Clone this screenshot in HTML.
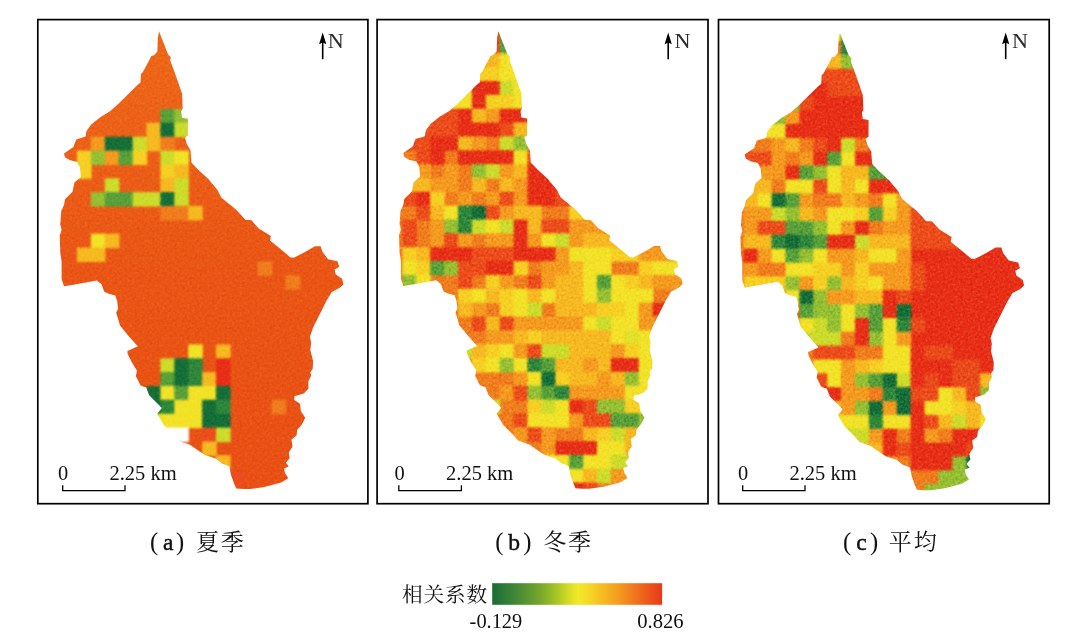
<!DOCTYPE html>
<html lang="zh"><head><meta charset="utf-8"><title>相关系数</title>
<style>html,body{margin:0;padding:0;background:#fff}body{width:1068px;height:635px;overflow:hidden}svg{display:block}.en{font-family:"Liberation Serif",serif;fill:#111}.zh{font-family:"Liberation Serif","Noto Serif CJK SC",serif;fill:#111}</style></head><body>
<svg width="1068" height="635" viewBox="0 0 1068 635">
<defs>
<clipPath id="shape"><polygon points="159.1,31.5 162.5,40.3 168.1,54.4 170.9,57.2 170,60 175.6,75 182.1,93.7 182.7,108.7 181.2,111.2 182.1,117.8 187.8,118.7 187.8,135.6 185,137.5 186.8,144 190.6,150.6 191.5,162.8 198.7,170.3 208.1,178.7 217.5,190 221.2,197.5 236.2,209.7 245.6,220 251.2,220 258.7,228.4 270.9,235.9 270,240.6 279.3,248.1 290.6,257.5 294.3,257.5 301.8,253.7 315,246.2 320.6,246.2 322.4,251.8 328.1,259.3 337.4,261.2 339.3,266.8 334.6,269.6 335.6,274.3 342.1,278.7 343.4,284.4 339.3,288.1 331.8,291.9 326.2,301.2 318.7,316.2 313.1,327.5 309.9,336.8 311.2,342.5 310.3,350 313.1,361.2 312.7,368.7 310.3,372.5 311.2,375.6 308.4,381.2 308.4,388.7 303.7,393.4 294.3,396.2 294.3,400 300,403.7 300.9,411.2 305.2,417.8 301.8,424.4 297.1,430 296.6,435.6 291.5,439.4 292.5,446.8 288.7,452.5 289.7,458.1 285.9,462.8 288.7,466.5 284,468.4 285,473.1 288.3,478.3 281.2,482.5 264.3,487.1 250,489.1 243.7,489 236.2,488.5 234.4,484.3 231.2,475.6 229.3,466.2 221.8,463.4 216.2,458.7 205,455 199.3,451.2 190,444.7 178.8,440.9 173.1,434.4 163.8,425 157.2,413.7 161.9,408.1 154.4,400.6 149,395 146.2,387.5 140.6,385.6 135.9,376.2 136.9,370.6 132.2,363.1 127.5,353.7 127.5,350.9 137.8,346.2 129.4,336.9 120,325.6 116.2,312.5 118.1,308.7 117.2,301.2 115.3,295.6 108.7,293.7 104.3,291.8 101.5,284.3 96.9,280.6 76.2,284.3 64,286.2 61.6,278.7 61.6,261.9 60.3,252.5 59.7,235.6 61.6,230 60.3,224.4 61.2,211.2 64,205 65,199.3 72.5,191.8 74.4,182.5 80.9,176.9 80,167.5 77.2,161.9 69.7,160 65,157.2 64,153.4 73.4,146.9 76.2,139.4 85.6,136.6 86.5,130.9 91.2,124.4 100.6,116.9 110,111.2 119.3,103.1 136.2,86.2 140.5,82.5 140.9,74 142.8,72.2 149.3,60 151.2,56.2 154,55.3 157.4,51.5 157.8,37.5"/></clipPath>
<filter id="soft0" x="-5%" y="-5%" width="110%" height="110%" color-interpolation-filters="sRGB"><feGaussianBlur stdDeviation="1.05" result="b"/><feTurbulence type="fractalNoise" baseFrequency="0.4 0.4" numOctaves="2" seed="7" result="t"/><feColorMatrix in="t" type="matrix" values="0.18 0.18 0.18 0 0.23 0.18 0.18 0.18 0 0.23 0.18 0.18 0.18 0 0.23 0 0 0 0 1" result="n"/><feBlend in="n" in2="b" mode="soft-light" result="m"/><feComposite in="m" in2="b" operator="in"/></filter>
<filter id="soft1" x="-5%" y="-5%" width="110%" height="110%" color-interpolation-filters="sRGB"><feGaussianBlur stdDeviation="1.05" result="b"/><feTurbulence type="fractalNoise" baseFrequency="0.4 0.4" numOctaves="2" seed="7" result="t"/><feColorMatrix in="t" type="matrix" values="0.38 0.38 0.38 0 -0.07 0.38 0.38 0.38 0 -0.07 0.38 0.38 0.38 0 -0.07 0 0 0 0 1" result="n"/><feBlend in="n" in2="b" mode="soft-light" result="m"/><feComposite in="m" in2="b" operator="in"/></filter>
<filter id="soft2" x="-5%" y="-5%" width="110%" height="110%" color-interpolation-filters="sRGB"><feGaussianBlur stdDeviation="1.05" result="b"/><feTurbulence type="fractalNoise" baseFrequency="0.4 0.4" numOctaves="2" seed="7" result="t"/><feColorMatrix in="t" type="matrix" values="0.38 0.38 0.38 0 -0.07 0.38 0.38 0.38 0 -0.07 0.38 0.38 0.38 0 -0.07 0 0 0 0 1" result="n"/><feBlend in="n" in2="b" mode="soft-light" result="m"/><feComposite in="m" in2="b" operator="in"/></filter>
<linearGradient id="lg" x1="0" y1="0" x2="1" y2="0"><stop offset="0" stop-color="#1a6b38"/><stop offset="0.13" stop-color="#3f8636"/><stop offset="0.28" stop-color="#76a62c"/><stop offset="0.38" stop-color="#a8c624"/><stop offset="0.45" stop-color="#d6dc24"/><stop offset="0.505" stop-color="#f1e92a"/><stop offset="0.55" stop-color="#f4de28"/><stop offset="0.63" stop-color="#f5c222"/><stop offset="0.75" stop-color="#f39a1e"/><stop offset="0.88" stop-color="#ee661c"/><stop offset="1" stop-color="#e8381a"/></linearGradient>
<linearGradient id="b1" gradientUnits="userSpaceOnUse" x1="0" y1="30" x2="0" y2="490"><stop offset="0" stop-color="#ee6818"/><stop offset="0.25" stop-color="#ec6017"/><stop offset="0.5" stop-color="#ea5615"/><stop offset="1" stop-color="#e95014"/></linearGradient>
</defs>
<rect width="1068" height="635" fill="#fff"/>
<g transform="translate(0,0)">
<g clip-path="url(#shape)"><g filter="url(#soft0)">
<rect x="50" y="20" width="305" height="480" fill="url(#b1)"/>
<rect x="160.4" y="109" width="14.6" height="14.5" fill="#58a038"/>
<rect x="174.3" y="109" width="14.6" height="14.5" fill="#96c032"/>
<rect x="146.5" y="122.8" width="14.6" height="14.5" fill="#f6b920"/>
<rect x="160.4" y="122.8" width="14.6" height="14.5" fill="#146e37"/>
<rect x="174.3" y="122.8" width="14.6" height="14.5" fill="#cddc2a"/>
<rect x="90.9" y="136.7" width="14.6" height="14.5" fill="#f49b1e"/>
<rect x="104.8" y="136.7" width="28.5" height="14.5" fill="#146e37"/>
<rect x="132.6" y="136.7" width="14.6" height="14.5" fill="#cddc2a"/>
<rect x="146.5" y="136.7" width="14.6" height="14.5" fill="#f6b920"/>
<rect x="160.4" y="136.7" width="14.6" height="14.5" fill="#f07d1c"/>
<rect x="77" y="150.6" width="14.6" height="14.5" fill="#f6d022"/>
<rect x="90.9" y="150.6" width="14.6" height="14.5" fill="#96c032"/>
<rect x="104.8" y="150.6" width="14.6" height="14.5" fill="#f49b1e"/>
<rect x="118.7" y="150.6" width="14.6" height="14.5" fill="#58a038"/>
<rect x="132.6" y="150.6" width="14.6" height="14.5" fill="#f6d022"/>
<rect x="160.4" y="150.6" width="14.6" height="14.5" fill="#cddc2a"/>
<rect x="174.3" y="150.6" width="14.6" height="14.5" fill="#f2e226"/>
<rect x="77" y="164.4" width="14.6" height="14.5" fill="#f6d022"/>
<rect x="160.4" y="164.4" width="14.6" height="14.5" fill="#f6d022"/>
<rect x="174.3" y="164.4" width="14.6" height="14.5" fill="#f6b920"/>
<rect x="104.8" y="178.2" width="14.6" height="14.5" fill="#cddc2a"/>
<rect x="160.4" y="178.2" width="14.6" height="14.5" fill="#f6b920"/>
<rect x="174.3" y="178.2" width="14.6" height="14.5" fill="#cddc2a"/>
<rect x="90.9" y="192.1" width="14.6" height="14.5" fill="#96c032"/>
<rect x="104.8" y="192.1" width="28.5" height="14.5" fill="#58a038"/>
<rect x="132.6" y="192.1" width="28.5" height="14.5" fill="#cddc2a"/>
<rect x="160.4" y="192.1" width="14.6" height="14.5" fill="#146e37"/>
<rect x="174.3" y="192.1" width="14.6" height="14.5" fill="#cddc2a"/>
<rect x="160.4" y="205.9" width="28.5" height="14.5" fill="#f07d1c"/>
<rect x="188.2" y="205.9" width="14.6" height="14.5" fill="#f6b920"/>
<rect x="90.9" y="233.6" width="14.6" height="14.5" fill="#f2e226"/>
<rect x="104.8" y="233.6" width="14.6" height="14.5" fill="#f6b920"/>
<rect x="77" y="247.5" width="28.5" height="14.5" fill="#f6b920"/>
<rect x="257.7" y="261.4" width="14.6" height="14.5" fill="#f07d1c"/>
<rect x="285.5" y="275.2" width="14.6" height="14.5" fill="#f07d1c"/>
<rect x="188.2" y="344.4" width="14.6" height="14.5" fill="#f2e226"/>
<rect x="216" y="344.4" width="14.6" height="14.5" fill="#f6b920"/>
<rect x="160.4" y="358.3" width="14.6" height="14.5" fill="#cddc2a"/>
<rect x="174.3" y="358.3" width="14.6" height="14.5" fill="#146e37"/>
<rect x="188.2" y="358.3" width="14.6" height="14.5" fill="#2d873a"/>
<rect x="216" y="358.3" width="14.6" height="14.5" fill="#e72e16"/>
<rect x="160.4" y="372.1" width="14.6" height="14.5" fill="#58a038"/>
<rect x="174.3" y="372.1" width="14.6" height="14.5" fill="#146e37"/>
<rect x="188.2" y="372.1" width="14.6" height="14.5" fill="#2d873a"/>
<rect x="202.1" y="372.1" width="14.6" height="14.5" fill="#f6b920"/>
<rect x="216" y="372.1" width="14.6" height="14.5" fill="#e72e16"/>
<rect x="146.5" y="386" width="14.6" height="14.5" fill="#146e37"/>
<rect x="160.4" y="386" width="14.6" height="14.5" fill="#f2e226"/>
<rect x="174.3" y="386" width="14.6" height="14.5" fill="#58a038"/>
<rect x="188.2" y="386" width="28.5" height="14.5" fill="#f2e226"/>
<rect x="216" y="386" width="14.6" height="14.5" fill="#146e37"/>
<rect x="146.5" y="399.8" width="14.6" height="14.5" fill="#146e37"/>
<rect x="160.4" y="399.8" width="14.6" height="14.5" fill="#2d873a"/>
<rect x="174.3" y="399.8" width="28.5" height="14.5" fill="#f2e226"/>
<rect x="202.1" y="399.8" width="14.6" height="14.5" fill="#146e37"/>
<rect x="216" y="399.8" width="14.6" height="14.5" fill="#2d873a"/>
<rect x="271.6" y="399.8" width="14.6" height="14.5" fill="#f07d1c"/>
<rect x="146.5" y="413.7" width="56.3" height="14.5" fill="#f2e226"/>
<rect x="202.1" y="413.7" width="28.5" height="14.5" fill="#146e37"/>
<rect x="160.4" y="427.6" width="28.5" height="14.5" fill="#ffffff"/>
<rect x="202.1" y="427.6" width="14.6" height="14.5" fill="#ec4c1a"/>
<rect x="216" y="427.6" width="14.6" height="14.5" fill="#cddc2a"/>
<rect x="202.1" y="441.4" width="14.6" height="14.5" fill="#f6b920"/>
<rect x="216" y="455.2" width="14.6" height="14.5" fill="#f6b920"/>
<rect x="229.9" y="469.1" width="14.6" height="14.5" fill="#ec4c1a"/>
</g></g></g>
<rect x="37.8" y="19.6" width="330.1" height="484.1" fill="none" stroke="#000" stroke-width="1.7"/>
<path d="M322.7 59.2V40" stroke="#000" stroke-width="1.6" fill="none"/>
<path d="M322.7 32.6L326.3 44.2L322.7 42.4L319.1 44.2Z" fill="#000"/>
<text class="en" x="327.8" y="47.8" font-size="21" textLength="16" lengthAdjust="spacingAndGlyphs" style="fill:#2b2b2b">N</text>
<path d="M62.7 485.3V490.6H125V485.3" stroke="#000" stroke-width="1.3" fill="none"/>
<text class="en" x="57.9" y="479.6" font-size="20.4">0</text>
<text class="en" x="109.4" y="479.6" font-size="20.5">2.25 km</text>
<g transform="translate(339.3,-0.3)">
<g clip-path="url(#shape)"><g filter="url(#soft1)">
<rect x="50" y="20" width="305" height="480" fill="#f07d1c"/>
<rect x="146.5" y="25.9" width="14.6" height="14.5" fill="#ec4c1a"/>
<rect x="160.4" y="25.9" width="14.6" height="14.5" fill="#58a038"/>
<rect x="146.5" y="39.8" width="14.6" height="14.5" fill="#ec4c1a"/>
<rect x="160.4" y="39.8" width="14.6" height="14.5" fill="#58a038"/>
<rect x="146.5" y="53.6" width="14.6" height="14.5" fill="#f6b920"/>
<rect x="160.4" y="53.6" width="14.6" height="14.5" fill="#f2e226"/>
<rect x="132.6" y="67.5" width="28.5" height="14.5" fill="#f6d022"/>
<rect x="160.4" y="67.5" width="28.5" height="14.5" fill="#f2e226"/>
<rect x="118.7" y="81.3" width="14.6" height="14.5" fill="#f2e226"/>
<rect x="132.6" y="81.3" width="28.5" height="14.5" fill="#e72e16"/>
<rect x="160.4" y="81.3" width="14.6" height="14.5" fill="#cddc2a"/>
<rect x="174.3" y="81.3" width="14.6" height="14.5" fill="#f2e226"/>
<rect x="104.8" y="95.2" width="28.5" height="14.5" fill="#f2e226"/>
<rect x="132.6" y="95.2" width="14.6" height="14.5" fill="#e72e16"/>
<rect x="146.5" y="95.2" width="28.5" height="14.5" fill="#f6d022"/>
<rect x="174.3" y="95.2" width="14.6" height="14.5" fill="#f2e226"/>
<rect x="77" y="109" width="42.4" height="14.5" fill="#ec4c1a"/>
<rect x="118.7" y="109" width="14.6" height="14.5" fill="#e72e16"/>
<rect x="132.6" y="109" width="14.6" height="14.5" fill="#f6b920"/>
<rect x="146.5" y="109" width="14.6" height="14.5" fill="#f49b1e"/>
<rect x="160.4" y="109" width="42.4" height="14.5" fill="#e72e16"/>
<rect x="63.1" y="122.8" width="56.3" height="14.5" fill="#ec4c1a"/>
<rect x="118.7" y="122.8" width="42.4" height="14.5" fill="#e72e16"/>
<rect x="160.4" y="122.8" width="14.6" height="14.5" fill="#ec4c1a"/>
<rect x="174.3" y="122.8" width="28.5" height="14.5" fill="#f6b920"/>
<rect x="63.1" y="136.7" width="28.5" height="14.5" fill="#ec4c1a"/>
<rect x="90.9" y="136.7" width="28.5" height="14.5" fill="#e72e16"/>
<rect x="118.7" y="136.7" width="14.6" height="14.5" fill="#f6b920"/>
<rect x="132.6" y="136.7" width="14.6" height="14.5" fill="#f49b1e"/>
<rect x="160.4" y="136.7" width="14.6" height="14.5" fill="#cddc2a"/>
<rect x="174.3" y="136.7" width="28.5" height="14.5" fill="#96c032"/>
<rect x="77" y="150.6" width="14.6" height="14.5" fill="#ec4c1a"/>
<rect x="90.9" y="150.6" width="14.6" height="14.5" fill="#e72e16"/>
<rect x="118.7" y="150.6" width="56.3" height="14.5" fill="#e72e16"/>
<rect x="174.3" y="150.6" width="14.6" height="14.5" fill="#f2e226"/>
<rect x="188.2" y="150.6" width="14.6" height="14.5" fill="#ec4c1a"/>
<rect x="63.1" y="164.4" width="28.5" height="14.5" fill="#f49b1e"/>
<rect x="104.8" y="164.4" width="14.6" height="14.5" fill="#f49b1e"/>
<rect x="132.6" y="164.4" width="14.6" height="14.5" fill="#96c032"/>
<rect x="146.5" y="164.4" width="14.6" height="14.5" fill="#cddc2a"/>
<rect x="160.4" y="164.4" width="14.6" height="14.5" fill="#f49b1e"/>
<rect x="174.3" y="164.4" width="14.6" height="14.5" fill="#f6b920"/>
<rect x="188.2" y="164.4" width="28.5" height="14.5" fill="#e72e16"/>
<rect x="63.1" y="178.2" width="28.5" height="14.5" fill="#f6b920"/>
<rect x="90.9" y="178.2" width="28.5" height="14.5" fill="#f49b1e"/>
<rect x="132.6" y="178.2" width="14.6" height="14.5" fill="#f6b920"/>
<rect x="160.4" y="178.2" width="14.6" height="14.5" fill="#f6b920"/>
<rect x="174.3" y="178.2" width="14.6" height="14.5" fill="#f49b1e"/>
<rect x="188.2" y="178.2" width="42.4" height="14.5" fill="#e72e16"/>
<rect x="63.1" y="192.1" width="14.6" height="14.5" fill="#ec4c1a"/>
<rect x="77" y="192.1" width="14.6" height="14.5" fill="#e72e16"/>
<rect x="90.9" y="192.1" width="14.6" height="14.5" fill="#f6d022"/>
<rect x="118.7" y="192.1" width="14.6" height="14.5" fill="#f49b1e"/>
<rect x="146.5" y="192.1" width="14.6" height="14.5" fill="#f49b1e"/>
<rect x="160.4" y="192.1" width="14.6" height="14.5" fill="#ec4c1a"/>
<rect x="174.3" y="192.1" width="14.6" height="14.5" fill="#f49b1e"/>
<rect x="188.2" y="192.1" width="28.5" height="14.5" fill="#e72e16"/>
<rect x="216" y="192.1" width="28.5" height="14.5" fill="#ec4c1a"/>
<rect x="77" y="205.9" width="14.6" height="14.5" fill="#ec4c1a"/>
<rect x="90.9" y="205.9" width="14.6" height="14.5" fill="#f6b920"/>
<rect x="104.8" y="205.9" width="14.6" height="14.5" fill="#f2e226"/>
<rect x="118.7" y="205.9" width="14.6" height="14.5" fill="#2d873a"/>
<rect x="132.6" y="205.9" width="14.6" height="14.5" fill="#146e37"/>
<rect x="146.5" y="205.9" width="14.6" height="14.5" fill="#ec4c1a"/>
<rect x="160.4" y="205.9" width="14.6" height="14.5" fill="#f49b1e"/>
<rect x="174.3" y="205.9" width="28.5" height="14.5" fill="#f6b920"/>
<rect x="229.9" y="205.9" width="28.5" height="14.5" fill="#f6d022"/>
<rect x="63.1" y="219.8" width="14.6" height="14.5" fill="#ec4c1a"/>
<rect x="90.9" y="219.8" width="14.6" height="14.5" fill="#f49b1e"/>
<rect x="104.8" y="219.8" width="14.6" height="14.5" fill="#96c032"/>
<rect x="118.7" y="219.8" width="14.6" height="14.5" fill="#2d873a"/>
<rect x="132.6" y="219.8" width="14.6" height="14.5" fill="#cddc2a"/>
<rect x="146.5" y="219.8" width="14.6" height="14.5" fill="#f2e226"/>
<rect x="160.4" y="219.8" width="14.6" height="14.5" fill="#cddc2a"/>
<rect x="174.3" y="219.8" width="14.6" height="14.5" fill="#e72e16"/>
<rect x="188.2" y="219.8" width="14.6" height="14.5" fill="#f6b920"/>
<rect x="202.1" y="219.8" width="28.5" height="14.5" fill="#ec4c1a"/>
<rect x="229.9" y="219.8" width="42.4" height="14.5" fill="#f49b1e"/>
<rect x="63.1" y="233.6" width="14.6" height="14.5" fill="#ec4c1a"/>
<rect x="90.9" y="233.6" width="14.6" height="14.5" fill="#f49b1e"/>
<rect x="104.8" y="233.6" width="14.6" height="14.5" fill="#ec4c1a"/>
<rect x="118.7" y="233.6" width="14.6" height="14.5" fill="#f49b1e"/>
<rect x="146.5" y="233.6" width="28.5" height="14.5" fill="#f49b1e"/>
<rect x="174.3" y="233.6" width="14.6" height="14.5" fill="#e72e16"/>
<rect x="188.2" y="233.6" width="14.6" height="14.5" fill="#f49b1e"/>
<rect x="202.1" y="233.6" width="14.6" height="14.5" fill="#f2e226"/>
<rect x="216" y="233.6" width="14.6" height="14.5" fill="#cddc2a"/>
<rect x="229.9" y="233.6" width="14.6" height="14.5" fill="#f49b1e"/>
<rect x="243.8" y="233.6" width="42.4" height="14.5" fill="#f6b920"/>
<rect x="63.1" y="247.5" width="14.6" height="14.5" fill="#f6d022"/>
<rect x="77" y="247.5" width="14.6" height="14.5" fill="#f6b920"/>
<rect x="90.9" y="247.5" width="42.4" height="14.5" fill="#e72e16"/>
<rect x="132.6" y="247.5" width="42.4" height="14.5" fill="#ec4c1a"/>
<rect x="174.3" y="247.5" width="42.4" height="14.5" fill="#e72e16"/>
<rect x="216" y="247.5" width="14.6" height="14.5" fill="#f49b1e"/>
<rect x="229.9" y="247.5" width="42.4" height="14.5" fill="#f2e226"/>
<rect x="271.6" y="247.5" width="28.5" height="14.5" fill="#f6d022"/>
<rect x="299.4" y="247.5" width="42.4" height="14.5" fill="#f49b1e"/>
<rect x="63.1" y="261.4" width="14.6" height="14.5" fill="#f2e226"/>
<rect x="77" y="261.4" width="14.6" height="14.5" fill="#f6d022"/>
<rect x="90.9" y="261.4" width="14.6" height="14.5" fill="#58a038"/>
<rect x="104.8" y="261.4" width="14.6" height="14.5" fill="#96c032"/>
<rect x="118.7" y="261.4" width="28.5" height="14.5" fill="#ec4c1a"/>
<rect x="146.5" y="261.4" width="28.5" height="14.5" fill="#e72e16"/>
<rect x="174.3" y="261.4" width="14.6" height="14.5" fill="#f6d022"/>
<rect x="202.1" y="261.4" width="28.5" height="14.5" fill="#f49b1e"/>
<rect x="229.9" y="261.4" width="14.6" height="14.5" fill="#f6b920"/>
<rect x="243.8" y="261.4" width="28.5" height="14.5" fill="#f2e226"/>
<rect x="299.4" y="261.4" width="14.6" height="14.5" fill="#f6d022"/>
<rect x="313.3" y="261.4" width="42.4" height="14.5" fill="#f2e226"/>
<rect x="63.1" y="275.2" width="14.6" height="14.5" fill="#96c032"/>
<rect x="77" y="275.2" width="14.6" height="14.5" fill="#f2e226"/>
<rect x="118.7" y="275.2" width="14.6" height="14.5" fill="#ec4c1a"/>
<rect x="146.5" y="275.2" width="14.6" height="14.5" fill="#f6d022"/>
<rect x="160.4" y="275.2" width="14.6" height="14.5" fill="#f49b1e"/>
<rect x="188.2" y="275.2" width="14.6" height="14.5" fill="#ec4c1a"/>
<rect x="202.1" y="275.2" width="14.6" height="14.5" fill="#f49b1e"/>
<rect x="216" y="275.2" width="28.5" height="14.5" fill="#f6b920"/>
<rect x="243.8" y="275.2" width="14.6" height="14.5" fill="#f2e226"/>
<rect x="257.7" y="275.2" width="14.6" height="14.5" fill="#58a038"/>
<rect x="271.6" y="275.2" width="14.6" height="14.5" fill="#f2e226"/>
<rect x="285.5" y="275.2" width="14.6" height="14.5" fill="#f6d022"/>
<rect x="299.4" y="275.2" width="14.6" height="14.5" fill="#f6b920"/>
<rect x="313.3" y="275.2" width="42.4" height="14.5" fill="#f49b1e"/>
<rect x="118.7" y="289" width="14.6" height="14.5" fill="#f6d022"/>
<rect x="132.6" y="289" width="14.6" height="14.5" fill="#f2e226"/>
<rect x="146.5" y="289" width="14.6" height="14.5" fill="#f6b920"/>
<rect x="160.4" y="289" width="14.6" height="14.5" fill="#f6d022"/>
<rect x="174.3" y="289" width="14.6" height="14.5" fill="#f2e226"/>
<rect x="188.2" y="289" width="14.6" height="14.5" fill="#f6b920"/>
<rect x="202.1" y="289" width="14.6" height="14.5" fill="#f2e226"/>
<rect x="216" y="289" width="28.5" height="14.5" fill="#f6b920"/>
<rect x="243.8" y="289" width="14.6" height="14.5" fill="#f2e226"/>
<rect x="257.7" y="289" width="14.6" height="14.5" fill="#96c032"/>
<rect x="271.6" y="289" width="42.4" height="14.5" fill="#f2e226"/>
<rect x="118.7" y="302.9" width="14.6" height="14.5" fill="#f6b920"/>
<rect x="132.6" y="302.9" width="14.6" height="14.5" fill="#f49b1e"/>
<rect x="160.4" y="302.9" width="14.6" height="14.5" fill="#f6d022"/>
<rect x="174.3" y="302.9" width="14.6" height="14.5" fill="#f2e226"/>
<rect x="188.2" y="302.9" width="14.6" height="14.5" fill="#cddc2a"/>
<rect x="216" y="302.9" width="42.4" height="14.5" fill="#f6b920"/>
<rect x="257.7" y="302.9" width="28.5" height="14.5" fill="#f6d022"/>
<rect x="285.5" y="302.9" width="14.6" height="14.5" fill="#f2e226"/>
<rect x="299.4" y="302.9" width="14.6" height="14.5" fill="#f49b1e"/>
<rect x="313.3" y="302.9" width="14.6" height="14.5" fill="#e72e16"/>
<rect x="132.6" y="316.8" width="14.6" height="14.5" fill="#ec4c1a"/>
<rect x="146.5" y="316.8" width="14.6" height="14.5" fill="#f6b920"/>
<rect x="160.4" y="316.8" width="14.6" height="14.5" fill="#ec4c1a"/>
<rect x="174.3" y="316.8" width="70.2" height="14.5" fill="#f49b1e"/>
<rect x="243.8" y="316.8" width="14.6" height="14.5" fill="#f2e226"/>
<rect x="257.7" y="316.8" width="14.6" height="14.5" fill="#cddc2a"/>
<rect x="271.6" y="316.8" width="28.5" height="14.5" fill="#f2e226"/>
<rect x="299.4" y="316.8" width="28.5" height="14.5" fill="#f49b1e"/>
<rect x="146.5" y="330.6" width="28.5" height="14.5" fill="#f49b1e"/>
<rect x="174.3" y="330.6" width="14.6" height="14.5" fill="#f6b920"/>
<rect x="188.2" y="330.6" width="14.6" height="14.5" fill="#f6d022"/>
<rect x="202.1" y="330.6" width="70.2" height="14.5" fill="#f6b920"/>
<rect x="271.6" y="330.6" width="14.6" height="14.5" fill="#f2e226"/>
<rect x="285.5" y="330.6" width="14.6" height="14.5" fill="#e2e028"/>
<rect x="299.4" y="330.6" width="14.6" height="14.5" fill="#f2e226"/>
<rect x="118.7" y="344.4" width="14.6" height="14.5" fill="#cddc2a"/>
<rect x="132.6" y="344.4" width="14.6" height="14.5" fill="#f6b920"/>
<rect x="146.5" y="344.4" width="14.6" height="14.5" fill="#f6d022"/>
<rect x="160.4" y="344.4" width="14.6" height="14.5" fill="#f2e226"/>
<rect x="174.3" y="344.4" width="14.6" height="14.5" fill="#f49b1e"/>
<rect x="188.2" y="344.4" width="14.6" height="14.5" fill="#ec4c1a"/>
<rect x="202.1" y="344.4" width="28.5" height="14.5" fill="#cddc2a"/>
<rect x="229.9" y="344.4" width="42.4" height="14.5" fill="#f6b920"/>
<rect x="271.6" y="344.4" width="14.6" height="14.5" fill="#f49b1e"/>
<rect x="285.5" y="344.4" width="14.6" height="14.5" fill="#f6d022"/>
<rect x="299.4" y="344.4" width="14.6" height="14.5" fill="#f2e226"/>
<rect x="132.6" y="358.3" width="14.6" height="14.5" fill="#f6d022"/>
<rect x="146.5" y="358.3" width="14.6" height="14.5" fill="#f2e226"/>
<rect x="160.4" y="358.3" width="14.6" height="14.5" fill="#96c032"/>
<rect x="174.3" y="358.3" width="14.6" height="14.5" fill="#f2e226"/>
<rect x="188.2" y="358.3" width="14.6" height="14.5" fill="#2d873a"/>
<rect x="202.1" y="358.3" width="14.6" height="14.5" fill="#58a038"/>
<rect x="216" y="358.3" width="28.5" height="14.5" fill="#f6b920"/>
<rect x="243.8" y="358.3" width="14.6" height="14.5" fill="#f49b1e"/>
<rect x="257.7" y="358.3" width="14.6" height="14.5" fill="#f6b920"/>
<rect x="271.6" y="358.3" width="28.5" height="14.5" fill="#e72e16"/>
<rect x="299.4" y="358.3" width="14.6" height="14.5" fill="#f2e226"/>
<rect x="174.3" y="372.1" width="14.6" height="14.5" fill="#f49b1e"/>
<rect x="188.2" y="372.1" width="14.6" height="14.5" fill="#f2e226"/>
<rect x="202.1" y="372.1" width="14.6" height="14.5" fill="#146e37"/>
<rect x="216" y="372.1" width="14.6" height="14.5" fill="#f6d022"/>
<rect x="229.9" y="372.1" width="28.5" height="14.5" fill="#f6b920"/>
<rect x="257.7" y="372.1" width="14.6" height="14.5" fill="#f49b1e"/>
<rect x="271.6" y="372.1" width="14.6" height="14.5" fill="#f6b920"/>
<rect x="285.5" y="372.1" width="14.6" height="14.5" fill="#96c032"/>
<rect x="299.4" y="372.1" width="14.6" height="14.5" fill="#f2e226"/>
<rect x="160.4" y="386" width="14.6" height="14.5" fill="#f49b1e"/>
<rect x="174.3" y="386" width="14.6" height="14.5" fill="#ec4c1a"/>
<rect x="188.2" y="386" width="14.6" height="14.5" fill="#96c032"/>
<rect x="202.1" y="386" width="14.6" height="14.5" fill="#58a038"/>
<rect x="216" y="386" width="14.6" height="14.5" fill="#2d873a"/>
<rect x="229.9" y="386" width="56.3" height="14.5" fill="#f49b1e"/>
<rect x="285.5" y="386" width="28.5" height="14.5" fill="#f2e226"/>
<rect x="146.5" y="399.8" width="14.6" height="14.5" fill="#cddc2a"/>
<rect x="188.2" y="399.8" width="14.6" height="14.5" fill="#f6d022"/>
<rect x="202.1" y="399.8" width="14.6" height="14.5" fill="#cddc2a"/>
<rect x="216" y="399.8" width="14.6" height="14.5" fill="#f2e226"/>
<rect x="229.9" y="399.8" width="14.6" height="14.5" fill="#e72e16"/>
<rect x="243.8" y="399.8" width="14.6" height="14.5" fill="#ec4c1a"/>
<rect x="257.7" y="399.8" width="28.5" height="14.5" fill="#96c032"/>
<rect x="285.5" y="399.8" width="28.5" height="14.5" fill="#f6d022"/>
<rect x="174.3" y="413.7" width="14.6" height="14.5" fill="#ec4c1a"/>
<rect x="188.2" y="413.7" width="42.4" height="14.5" fill="#f2e226"/>
<rect x="229.9" y="413.7" width="14.6" height="14.5" fill="#f49b1e"/>
<rect x="243.8" y="413.7" width="28.5" height="14.5" fill="#ec4c1a"/>
<rect x="271.6" y="413.7" width="28.5" height="14.5" fill="#58a038"/>
<rect x="299.4" y="413.7" width="14.6" height="14.5" fill="#96c032"/>
<rect x="174.3" y="427.6" width="14.6" height="14.5" fill="#f49b1e"/>
<rect x="188.2" y="427.6" width="14.6" height="14.5" fill="#ec4c1a"/>
<rect x="202.1" y="427.6" width="14.6" height="14.5" fill="#f49b1e"/>
<rect x="243.8" y="427.6" width="14.6" height="14.5" fill="#f6b920"/>
<rect x="257.7" y="427.6" width="14.6" height="14.5" fill="#f6d022"/>
<rect x="271.6" y="427.6" width="14.6" height="14.5" fill="#cddc2a"/>
<rect x="285.5" y="427.6" width="28.5" height="14.5" fill="#f6b920"/>
<rect x="202.1" y="441.4" width="14.6" height="14.5" fill="#f49b1e"/>
<rect x="216" y="441.4" width="42.4" height="14.5" fill="#e72e16"/>
<rect x="257.7" y="441.4" width="28.5" height="14.5" fill="#f2e226"/>
<rect x="285.5" y="441.4" width="28.5" height="14.5" fill="#f6b920"/>
<rect x="188.2" y="455.2" width="42.4" height="14.5" fill="#f2e226"/>
<rect x="229.9" y="455.2" width="14.6" height="14.5" fill="#58a038"/>
<rect x="243.8" y="455.2" width="28.5" height="14.5" fill="#f2e226"/>
<rect x="271.6" y="455.2" width="28.5" height="14.5" fill="#cddc2a"/>
<rect x="216" y="469.1" width="28.5" height="14.5" fill="#f2e226"/>
<rect x="243.8" y="469.1" width="14.6" height="14.5" fill="#f6b920"/>
<rect x="257.7" y="469.1" width="14.6" height="14.5" fill="#cddc2a"/>
<rect x="271.6" y="469.1" width="28.5" height="14.5" fill="#f49b1e"/>
<rect x="216" y="482.9" width="28.5" height="14.5" fill="#e72e16"/>
<rect x="243.8" y="482.9" width="14.6" height="14.5" fill="#ec4c1a"/>
</g></g></g>
<rect x="377.1" y="19.6" width="330.9" height="484.1" fill="none" stroke="#000" stroke-width="1.7"/>
<path d="M668.2 59.2V40" stroke="#000" stroke-width="1.6" fill="none"/>
<path d="M668.2 32.6L671.8 44.2L668.2 42.4L664.6 44.2Z" fill="#000"/>
<text class="en" x="674.5" y="47.8" font-size="21" textLength="16" lengthAdjust="spacingAndGlyphs" style="fill:#2b2b2b">N</text>
<path d="M398.8 485.3V490.6H461.4V485.3" stroke="#000" stroke-width="1.3" fill="none"/>
<text class="en" x="394.5" y="479.6" font-size="20.4">0</text>
<text class="en" x="446" y="479.6" font-size="20.5">2.25 km</text>
<g transform="translate(680.7,1.2)">
<g clip-path="url(#shape)"><g filter="url(#soft2)">
<rect x="50" y="20" width="305" height="480" fill="#f07d1c"/>
<rect x="229.9" y="20" width="130.1" height="480" fill="#e72e16"/>
<rect x="146.5" y="25.9" width="14.6" height="14.5" fill="#f2e226"/>
<rect x="160.4" y="25.9" width="14.6" height="14.5" fill="#2d873a"/>
<rect x="146.5" y="39.8" width="14.6" height="14.5" fill="#f07d1c"/>
<rect x="160.4" y="39.8" width="14.6" height="14.5" fill="#2d873a"/>
<rect x="146.5" y="53.6" width="14.6" height="14.5" fill="#f6b920"/>
<rect x="160.4" y="53.6" width="14.6" height="14.5" fill="#96c032"/>
<rect x="132.6" y="67.5" width="56.3" height="14.5" fill="#ec4c1a"/>
<rect x="118.7" y="81.3" width="28.5" height="14.5" fill="#e72e16"/>
<rect x="146.5" y="81.3" width="14.6" height="14.5" fill="#ea4a1a"/>
<rect x="160.4" y="81.3" width="28.5" height="14.5" fill="#ec4c1a"/>
<rect x="104.8" y="95.2" width="14.6" height="14.5" fill="#96c032"/>
<rect x="118.7" y="95.2" width="14.6" height="14.5" fill="#ec4c1a"/>
<rect x="132.6" y="95.2" width="56.3" height="14.5" fill="#e72e16"/>
<rect x="77" y="109" width="28.5" height="14.5" fill="#96c032"/>
<rect x="104.8" y="109" width="14.6" height="14.5" fill="#f49b1e"/>
<rect x="118.7" y="109" width="84.1" height="14.5" fill="#e72e16"/>
<rect x="77" y="122.8" width="28.5" height="14.5" fill="#f2e226"/>
<rect x="104.8" y="122.8" width="98" height="14.5" fill="#e72e16"/>
<rect x="63.1" y="136.7" width="28.5" height="14.5" fill="#f07d1c"/>
<rect x="90.9" y="136.7" width="14.6" height="14.5" fill="#f49b1e"/>
<rect x="104.8" y="136.7" width="14.6" height="14.5" fill="#f6b920"/>
<rect x="118.7" y="136.7" width="14.6" height="14.5" fill="#f07d1c"/>
<rect x="132.6" y="136.7" width="14.6" height="14.5" fill="#ec4c1a"/>
<rect x="146.5" y="136.7" width="14.6" height="14.5" fill="#e72e16"/>
<rect x="160.4" y="136.7" width="14.6" height="14.5" fill="#cddc2a"/>
<rect x="174.3" y="136.7" width="14.6" height="14.5" fill="#f07d1c"/>
<rect x="188.2" y="136.7" width="14.6" height="14.5" fill="#ec4c1a"/>
<rect x="63.1" y="150.6" width="28.5" height="14.5" fill="#ec4c1a"/>
<rect x="90.9" y="150.6" width="14.6" height="14.5" fill="#f49b1e"/>
<rect x="104.8" y="150.6" width="14.6" height="14.5" fill="#f07d1c"/>
<rect x="118.7" y="150.6" width="14.6" height="14.5" fill="#f49b1e"/>
<rect x="132.6" y="150.6" width="14.6" height="14.5" fill="#e72e16"/>
<rect x="146.5" y="150.6" width="14.6" height="14.5" fill="#58a038"/>
<rect x="160.4" y="150.6" width="14.6" height="14.5" fill="#f2e226"/>
<rect x="174.3" y="150.6" width="28.5" height="14.5" fill="#e72e16"/>
<rect x="63.1" y="164.4" width="42.4" height="14.5" fill="#f49b1e"/>
<rect x="104.8" y="164.4" width="14.6" height="14.5" fill="#e72e16"/>
<rect x="118.7" y="164.4" width="14.6" height="14.5" fill="#58a038"/>
<rect x="132.6" y="164.4" width="14.6" height="14.5" fill="#96c032"/>
<rect x="146.5" y="164.4" width="14.6" height="14.5" fill="#f2e226"/>
<rect x="160.4" y="164.4" width="28.5" height="14.5" fill="#f6b920"/>
<rect x="188.2" y="164.4" width="28.5" height="14.5" fill="#58a038"/>
<rect x="63.1" y="178.2" width="28.5" height="14.5" fill="#f6b920"/>
<rect x="90.9" y="178.2" width="14.6" height="14.5" fill="#f07d1c"/>
<rect x="104.8" y="178.2" width="28.5" height="14.5" fill="#f2e226"/>
<rect x="132.6" y="178.2" width="14.6" height="14.5" fill="#ec4c1a"/>
<rect x="146.5" y="178.2" width="14.6" height="14.5" fill="#f2e226"/>
<rect x="160.4" y="178.2" width="14.6" height="14.5" fill="#f6b920"/>
<rect x="174.3" y="178.2" width="14.6" height="14.5" fill="#f2e226"/>
<rect x="188.2" y="178.2" width="42.4" height="14.5" fill="#e72e16"/>
<rect x="63.1" y="192.1" width="14.6" height="14.5" fill="#f6b920"/>
<rect x="77" y="192.1" width="14.6" height="14.5" fill="#f2e226"/>
<rect x="90.9" y="192.1" width="14.6" height="14.5" fill="#146e37"/>
<rect x="104.8" y="192.1" width="14.6" height="14.5" fill="#58a038"/>
<rect x="118.7" y="192.1" width="14.6" height="14.5" fill="#f49b1e"/>
<rect x="132.6" y="192.1" width="28.5" height="14.5" fill="#f07d1c"/>
<rect x="160.4" y="192.1" width="14.6" height="14.5" fill="#f6b920"/>
<rect x="174.3" y="192.1" width="14.6" height="14.5" fill="#f49b1e"/>
<rect x="188.2" y="192.1" width="14.6" height="14.5" fill="#f07d1c"/>
<rect x="202.1" y="192.1" width="14.6" height="14.5" fill="#f2e226"/>
<rect x="216" y="192.1" width="28.5" height="14.5" fill="#f49b1e"/>
<rect x="63.1" y="205.9" width="28.5" height="14.5" fill="#f49b1e"/>
<rect x="90.9" y="205.9" width="14.6" height="14.5" fill="#cddc2a"/>
<rect x="104.8" y="205.9" width="14.6" height="14.5" fill="#96c032"/>
<rect x="118.7" y="205.9" width="14.6" height="14.5" fill="#f6b920"/>
<rect x="132.6" y="205.9" width="14.6" height="14.5" fill="#f49b1e"/>
<rect x="146.5" y="205.9" width="28.5" height="14.5" fill="#f2e226"/>
<rect x="174.3" y="205.9" width="14.6" height="14.5" fill="#f6d022"/>
<rect x="188.2" y="205.9" width="14.6" height="14.5" fill="#58a038"/>
<rect x="202.1" y="205.9" width="14.6" height="14.5" fill="#f6d022"/>
<rect x="216" y="205.9" width="14.6" height="14.5" fill="#f49b1e"/>
<rect x="229.9" y="205.9" width="56.3" height="14.5" fill="#ec4c1a"/>
<rect x="63.1" y="219.8" width="14.6" height="14.5" fill="#f49b1e"/>
<rect x="77" y="219.8" width="28.5" height="14.5" fill="#ec4c1a"/>
<rect x="104.8" y="219.8" width="28.5" height="14.5" fill="#58a038"/>
<rect x="132.6" y="219.8" width="14.6" height="14.5" fill="#96c032"/>
<rect x="146.5" y="219.8" width="14.6" height="14.5" fill="#f2e226"/>
<rect x="160.4" y="219.8" width="14.6" height="14.5" fill="#f49b1e"/>
<rect x="174.3" y="219.8" width="14.6" height="14.5" fill="#e72e16"/>
<rect x="188.2" y="219.8" width="14.6" height="14.5" fill="#f07d1c"/>
<rect x="202.1" y="219.8" width="28.5" height="14.5" fill="#f49b1e"/>
<rect x="229.9" y="219.8" width="56.3" height="14.5" fill="#ec4c1a"/>
<rect x="63.1" y="233.6" width="28.5" height="14.5" fill="#f6b920"/>
<rect x="90.9" y="233.6" width="14.6" height="14.5" fill="#2d873a"/>
<rect x="104.8" y="233.6" width="14.6" height="14.5" fill="#146e37"/>
<rect x="118.7" y="233.6" width="14.6" height="14.5" fill="#2d873a"/>
<rect x="132.6" y="233.6" width="14.6" height="14.5" fill="#58a038"/>
<rect x="146.5" y="233.6" width="28.5" height="14.5" fill="#e72e16"/>
<rect x="174.3" y="233.6" width="14.6" height="14.5" fill="#cddc2a"/>
<rect x="188.2" y="233.6" width="42.4" height="14.5" fill="#f6b920"/>
<rect x="229.9" y="233.6" width="56.3" height="14.5" fill="#ec4c1a"/>
<rect x="63.1" y="247.5" width="14.6" height="14.5" fill="#e72e16"/>
<rect x="77" y="247.5" width="14.6" height="14.5" fill="#f49b1e"/>
<rect x="90.9" y="247.5" width="14.6" height="14.5" fill="#f2e226"/>
<rect x="104.8" y="247.5" width="14.6" height="14.5" fill="#58a038"/>
<rect x="118.7" y="247.5" width="14.6" height="14.5" fill="#96c032"/>
<rect x="132.6" y="247.5" width="14.6" height="14.5" fill="#f2e226"/>
<rect x="146.5" y="247.5" width="28.5" height="14.5" fill="#f49b1e"/>
<rect x="174.3" y="247.5" width="14.6" height="14.5" fill="#f6b920"/>
<rect x="188.2" y="247.5" width="28.5" height="14.5" fill="#f2e226"/>
<rect x="216" y="247.5" width="14.6" height="14.5" fill="#f49b1e"/>
<rect x="63.1" y="261.4" width="14.6" height="14.5" fill="#f49b1e"/>
<rect x="77" y="261.4" width="28.5" height="14.5" fill="#f07d1c"/>
<rect x="104.8" y="261.4" width="28.5" height="14.5" fill="#f2e226"/>
<rect x="132.6" y="261.4" width="28.5" height="14.5" fill="#f6d022"/>
<rect x="160.4" y="261.4" width="14.6" height="14.5" fill="#f49b1e"/>
<rect x="174.3" y="261.4" width="14.6" height="14.5" fill="#f6d022"/>
<rect x="188.2" y="261.4" width="42.4" height="14.5" fill="#f49b1e"/>
<rect x="229.9" y="261.4" width="14.6" height="14.5" fill="#ec4c1a"/>
<rect x="63.1" y="275.2" width="42.4" height="14.5" fill="#f6d022"/>
<rect x="104.8" y="275.2" width="14.6" height="14.5" fill="#96c032"/>
<rect x="118.7" y="275.2" width="14.6" height="14.5" fill="#f49b1e"/>
<rect x="132.6" y="275.2" width="14.6" height="14.5" fill="#f6d022"/>
<rect x="146.5" y="275.2" width="14.6" height="14.5" fill="#96c032"/>
<rect x="160.4" y="275.2" width="14.6" height="14.5" fill="#f6b920"/>
<rect x="174.3" y="275.2" width="14.6" height="14.5" fill="#f6d022"/>
<rect x="188.2" y="275.2" width="14.6" height="14.5" fill="#f2e226"/>
<rect x="202.1" y="275.2" width="28.5" height="14.5" fill="#f49b1e"/>
<rect x="229.9" y="275.2" width="14.6" height="14.5" fill="#ec4c1a"/>
<rect x="104.8" y="289" width="14.6" height="14.5" fill="#f2e226"/>
<rect x="118.7" y="289" width="14.6" height="14.5" fill="#146e37"/>
<rect x="132.6" y="289" width="14.6" height="14.5" fill="#96c032"/>
<rect x="146.5" y="289" width="28.5" height="14.5" fill="#f49b1e"/>
<rect x="174.3" y="289" width="28.5" height="14.5" fill="#f6b920"/>
<rect x="202.1" y="289" width="14.6" height="14.5" fill="#e72e16"/>
<rect x="216" y="289" width="14.6" height="14.5" fill="#ec4c1a"/>
<rect x="118.7" y="302.9" width="14.6" height="14.5" fill="#58a038"/>
<rect x="132.6" y="302.9" width="28.5" height="14.5" fill="#96c032"/>
<rect x="160.4" y="302.9" width="14.6" height="14.5" fill="#f2e226"/>
<rect x="174.3" y="302.9" width="14.6" height="14.5" fill="#96c032"/>
<rect x="188.2" y="302.9" width="14.6" height="14.5" fill="#58a038"/>
<rect x="202.1" y="302.9" width="14.6" height="14.5" fill="#e72e16"/>
<rect x="216" y="302.9" width="14.6" height="14.5" fill="#146e37"/>
<rect x="118.7" y="316.8" width="14.6" height="14.5" fill="#f2e226"/>
<rect x="132.6" y="316.8" width="14.6" height="14.5" fill="#cddc2a"/>
<rect x="146.5" y="316.8" width="14.6" height="14.5" fill="#96c032"/>
<rect x="160.4" y="316.8" width="14.6" height="14.5" fill="#f2e226"/>
<rect x="174.3" y="316.8" width="14.6" height="14.5" fill="#e72e16"/>
<rect x="188.2" y="316.8" width="14.6" height="14.5" fill="#58a038"/>
<rect x="202.1" y="316.8" width="14.6" height="14.5" fill="#f2e226"/>
<rect x="216" y="316.8" width="14.6" height="14.5" fill="#2d873a"/>
<rect x="229.9" y="316.8" width="14.6" height="14.5" fill="#ea4a1a"/>
<rect x="118.7" y="330.6" width="42.4" height="14.5" fill="#cddc2a"/>
<rect x="160.4" y="330.6" width="14.6" height="14.5" fill="#f07d1c"/>
<rect x="174.3" y="330.6" width="14.6" height="14.5" fill="#e72e16"/>
<rect x="188.2" y="330.6" width="14.6" height="14.5" fill="#96c032"/>
<rect x="202.1" y="330.6" width="14.6" height="14.5" fill="#f2e226"/>
<rect x="216" y="330.6" width="14.6" height="14.5" fill="#f49b1e"/>
<rect x="118.7" y="344.4" width="14.6" height="14.5" fill="#f07d1c"/>
<rect x="132.6" y="344.4" width="42.4" height="14.5" fill="#ec4c1a"/>
<rect x="174.3" y="344.4" width="28.5" height="14.5" fill="#f07d1c"/>
<rect x="202.1" y="344.4" width="28.5" height="14.5" fill="#f2e226"/>
<rect x="229.9" y="344.4" width="14.6" height="14.5" fill="#e72e16"/>
<rect x="243.8" y="344.4" width="28.5" height="14.5" fill="#ea4a1a"/>
<rect x="132.6" y="358.3" width="28.5" height="14.5" fill="#f2e226"/>
<rect x="160.4" y="358.3" width="14.6" height="14.5" fill="#f49b1e"/>
<rect x="174.3" y="358.3" width="14.6" height="14.5" fill="#f6b920"/>
<rect x="188.2" y="358.3" width="14.6" height="14.5" fill="#f6d022"/>
<rect x="202.1" y="358.3" width="28.5" height="14.5" fill="#f2e226"/>
<rect x="229.9" y="358.3" width="42.4" height="14.5" fill="#e72e16"/>
<rect x="271.6" y="358.3" width="28.5" height="14.5" fill="#ea4a1a"/>
<rect x="299.4" y="358.3" width="14.6" height="14.5" fill="#e72e16"/>
<rect x="132.6" y="372.1" width="14.6" height="14.5" fill="#ec4c1a"/>
<rect x="146.5" y="372.1" width="14.6" height="14.5" fill="#f2e226"/>
<rect x="160.4" y="372.1" width="14.6" height="14.5" fill="#f49b1e"/>
<rect x="174.3" y="372.1" width="14.6" height="14.5" fill="#96c032"/>
<rect x="188.2" y="372.1" width="14.6" height="14.5" fill="#58a038"/>
<rect x="202.1" y="372.1" width="14.6" height="14.5" fill="#146e37"/>
<rect x="216" y="372.1" width="14.6" height="14.5" fill="#cddc2a"/>
<rect x="229.9" y="372.1" width="14.6" height="14.5" fill="#e72e16"/>
<rect x="243.8" y="372.1" width="14.6" height="14.5" fill="#ea4a1a"/>
<rect x="257.7" y="372.1" width="14.6" height="14.5" fill="#e72e16"/>
<rect x="271.6" y="372.1" width="28.5" height="14.5" fill="#ea4a1a"/>
<rect x="299.4" y="372.1" width="14.6" height="14.5" fill="#f6b920"/>
<rect x="132.6" y="386" width="28.5" height="14.5" fill="#e72e16"/>
<rect x="160.4" y="386" width="28.5" height="14.5" fill="#f49b1e"/>
<rect x="188.2" y="386" width="14.6" height="14.5" fill="#f07d1c"/>
<rect x="202.1" y="386" width="14.6" height="14.5" fill="#2d873a"/>
<rect x="216" y="386" width="14.6" height="14.5" fill="#146e37"/>
<rect x="229.9" y="386" width="28.5" height="14.5" fill="#ec4c1a"/>
<rect x="257.7" y="386" width="14.6" height="14.5" fill="#f2e226"/>
<rect x="271.6" y="386" width="14.6" height="14.5" fill="#f6b920"/>
<rect x="285.5" y="386" width="14.6" height="14.5" fill="#ec4c1a"/>
<rect x="299.4" y="386" width="14.6" height="14.5" fill="#96c032"/>
<rect x="146.5" y="399.8" width="14.6" height="14.5" fill="#f6b920"/>
<rect x="160.4" y="399.8" width="14.6" height="14.5" fill="#f49b1e"/>
<rect x="174.3" y="399.8" width="14.6" height="14.5" fill="#96c032"/>
<rect x="188.2" y="399.8" width="14.6" height="14.5" fill="#146e37"/>
<rect x="202.1" y="399.8" width="14.6" height="14.5" fill="#f49b1e"/>
<rect x="216" y="399.8" width="14.6" height="14.5" fill="#146e37"/>
<rect x="229.9" y="399.8" width="14.6" height="14.5" fill="#e72e16"/>
<rect x="243.8" y="399.8" width="28.5" height="14.5" fill="#f2e226"/>
<rect x="271.6" y="399.8" width="14.6" height="14.5" fill="#f6d022"/>
<rect x="285.5" y="399.8" width="28.5" height="14.5" fill="#f6b920"/>
<rect x="146.5" y="413.7" width="42.4" height="14.5" fill="#f2e226"/>
<rect x="188.2" y="413.7" width="14.6" height="14.5" fill="#2d873a"/>
<rect x="202.1" y="413.7" width="28.5" height="14.5" fill="#f2e226"/>
<rect x="229.9" y="413.7" width="14.6" height="14.5" fill="#e72e16"/>
<rect x="243.8" y="413.7" width="14.6" height="14.5" fill="#ec4c1a"/>
<rect x="257.7" y="413.7" width="14.6" height="14.5" fill="#f6b920"/>
<rect x="271.6" y="413.7" width="14.6" height="14.5" fill="#cddc2a"/>
<rect x="285.5" y="413.7" width="14.6" height="14.5" fill="#f6b920"/>
<rect x="299.4" y="413.7" width="14.6" height="14.5" fill="#f2e226"/>
<rect x="160.4" y="427.6" width="28.5" height="14.5" fill="#cddc2a"/>
<rect x="188.2" y="427.6" width="14.6" height="14.5" fill="#f49b1e"/>
<rect x="202.1" y="427.6" width="14.6" height="14.5" fill="#e72e16"/>
<rect x="216" y="427.6" width="14.6" height="14.5" fill="#f07d1c"/>
<rect x="229.9" y="427.6" width="14.6" height="14.5" fill="#e72e16"/>
<rect x="243.8" y="427.6" width="14.6" height="14.5" fill="#f49b1e"/>
<rect x="257.7" y="427.6" width="14.6" height="14.5" fill="#f07d1c"/>
<rect x="271.6" y="427.6" width="28.5" height="14.5" fill="#e72e16"/>
<rect x="174.3" y="441.4" width="28.5" height="14.5" fill="#f6b920"/>
<rect x="202.1" y="441.4" width="14.6" height="14.5" fill="#e72e16"/>
<rect x="216" y="441.4" width="14.6" height="14.5" fill="#ec4c1a"/>
<rect x="229.9" y="441.4" width="56.3" height="14.5" fill="#e72e16"/>
<rect x="285.5" y="441.4" width="14.6" height="14.5" fill="#ea4a1a"/>
<rect x="202.1" y="455.2" width="14.6" height="14.5" fill="#f49b1e"/>
<rect x="216" y="455.2" width="14.6" height="14.5" fill="#f07d1c"/>
<rect x="229.9" y="455.2" width="42.4" height="14.5" fill="#e72e16"/>
<rect x="271.6" y="455.2" width="14.6" height="14.5" fill="#96c032"/>
<rect x="285.5" y="455.2" width="14.6" height="14.5" fill="#146e37"/>
<rect x="216" y="469.1" width="42.4" height="14.5" fill="#f07d1c"/>
<rect x="257.7" y="469.1" width="42.4" height="14.5" fill="#96c032"/>
<rect x="216" y="482.9" width="28.5" height="14.5" fill="#f07d1c"/>
<rect x="243.8" y="482.9" width="42.4" height="14.5" fill="#96c032"/>
</g></g></g>
<rect x="718.5" y="19.6" width="330.7" height="484.1" fill="none" stroke="#000" stroke-width="1.7"/>
<path d="M1005.7 59.2V40" stroke="#000" stroke-width="1.6" fill="none"/>
<path d="M1005.7 32.6L1009.3 44.2L1005.7 42.4L1002.1 44.2Z" fill="#000"/>
<text class="en" x="1011.9" y="47.8" font-size="21" textLength="16" lengthAdjust="spacingAndGlyphs" style="fill:#2b2b2b">N</text>
<path d="M742.7 485.3V490.6H805V485.3" stroke="#000" stroke-width="1.3" fill="none"/>
<text class="en" x="737.9" y="479.6" font-size="20.4">0</text>
<text class="en" x="789.4" y="479.6" font-size="20.5">2.25 km</text>
<text class="zh" y="550.4" font-size="23"><tspan x="149.9" y="549.8" font-size="24.6">(</tspan><tspan x="162.9" y="550.4" font-size="23.6" stroke="#111" stroke-width="0.45">a</tspan><tspan x="176.1" y="549.8" font-size="24.6">)</tspan><tspan x="196" y="550.4">夏</tspan><tspan x="220.7">季</tspan></text>
<text class="zh" y="550.4" font-size="23"><tspan x="495.2" y="549.8" font-size="24.6">(</tspan><tspan x="508.3" y="550.4" font-size="23.6" stroke="#111" stroke-width="0.45">b</tspan><tspan x="523.3" y="549.8" font-size="24.6">)</tspan><tspan x="543.2" y="550.4">冬</tspan><tspan x="567.9">季</tspan></text>
<text class="zh" y="550.4" font-size="23"><tspan x="842.9" y="549.8" font-size="24.6">(</tspan><tspan x="856.3" y="550.4" font-size="23.6" stroke="#111" stroke-width="0.45">c</tspan><tspan x="869.9" y="549.8" font-size="24.6">)</tspan><tspan x="888.7" y="550.4">平</tspan><tspan x="913.7">均</tspan></text>
<rect x="492.2" y="583.2" width="169.9" height="21.6" fill="url(#lg)"/>
<text class="zh" x="402" y="602" font-size="20.6" letter-spacing="0.9">相关系数</text>
<text class="en" x="469.6" y="628.1" font-size="20.4">-0.129</text>
<text class="en" x="637.2" y="628.1" font-size="20.6">0.826</text>
</svg></body></html>
